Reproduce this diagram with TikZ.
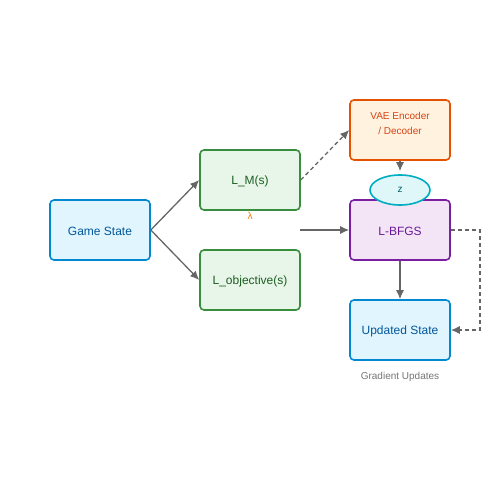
\documentclass[tikz,border=0pt]{standalone}
\usepackage{fontspec}
\setmainfont{Liberation Sans}
\usepackage{tikz}
\usepackage{xcolor}
\usetikzlibrary{positioning,shapes,arrows.meta}

\definecolor{stateFill}{HTML}{E1F5FE}
\definecolor{stateLine}{HTML}{0288D1}
\definecolor{stateText}{HTML}{01579B}
\definecolor{lossFill}{HTML}{E8F5E9}
\definecolor{lossLine}{HTML}{388E3C}
\definecolor{lossText}{HTML}{1B5E20}
\definecolor{vaeFill}{HTML}{FFF3E0}
\definecolor{vaeLine}{HTML}{E65100}
\definecolor{vaeText}{HTML}{D84315}
\definecolor{zFill}{HTML}{E0F7FA}
\definecolor{zLine}{HTML}{00ACC1}
\definecolor{zText}{HTML}{006064}
\definecolor{optFill}{HTML}{F3E5F5}
\definecolor{optLine}{HTML}{7B1FA2}
\definecolor{optText}{HTML}{6A1B9A}
\definecolor{arrowGray}{HTML}{666666}
\definecolor{lambdaText}{HTML}{F57C00}

\begin{document}
\begin{tikzpicture}[x=1pt,y=-1pt,
  box/.style={rectangle,rounded corners=4pt,line width=1.6pt,minimum width=100pt,minimum height=60pt,inner sep=0pt},
  statebox/.style={box,draw=stateLine,fill=stateFill},
  lossbox/.style={box,draw=lossLine,fill=lossFill},
  vaebox/.style={box,draw=vaeLine,fill=vaeFill},
  optbox/.style={box,draw=optLine,fill=optFill},
  big/.style={font=\fontsize{12}{14}\selectfont},
  small/.style={font=\fontsize{10}{15}\selectfont},
  conn/.style={draw=arrowGray,line width=1.3pt,-{Latex[length=9pt,width=8pt]}},
  dconn/.style={conn,dash pattern=on 4pt off 3pt}]
\useasboundingbox (0,0) rectangle (500,500);
\node [statebox] (game) at (100,230) {};
\node [big,text=stateText] (gametext) at (100,231) {Game State};
\node [lossbox] (lm) at (250,180) {};
\node [lossbox] (lobj) at (250,280) {};
\node [big,text=lossText] (lmtext) at (250,181) {L\_M(s)};
\node [big,text=lossText] (lobjtext) at (250,281) {L\_objective(s)};
\node [vaebox] (vae) at (400,130) {};
\node [small,text=vaeText,align=center] (vaetext) at (400,123.5) {VAE Encoder\\/ Decoder};
\node [optbox] (lbfgs) at (400,230) {};
\node [big,text=optText] (lbfgstext) at (400,231) {L-BFGS};
\node [statebox] (upd) at (400,330) {};
\node [big,text=stateText] (updtext) at (400,331) {Updated State};
\node [ellipse,draw=zLine,fill=zFill,text=zText,line width=1.6pt,minimum width=60pt,minimum height=30pt,inner sep=0pt,small] (z) at (400,190) {z};
\node [small,text=lambdaText] (lambda) at (250,216) {λ};
\node [small,text=arrowGray!90] (grad) at (400,377) {Gradient Updates};
\coordinate (join) at (300,230);
\coordinate (loopA) at (480,230);
\coordinate (loopB) at (480,330);
% connectors
\draw [conn] (game.east) -- (lm.west);
\draw [conn] (game.east) -- (lobj.west);
\draw [dconn] (lm.east) -- (vae.west);
\draw [conn] (vae.south) -- ([yshift=3pt]z.north);
\draw [conn] (join) -- (lbfgs.west);
\draw [conn] (lbfgs.south) -- (upd.north);
\draw [dconn] (lbfgs.east) -- (loopA) -- (loopB) -- (upd.east);
\end{tikzpicture}
\end{document}
